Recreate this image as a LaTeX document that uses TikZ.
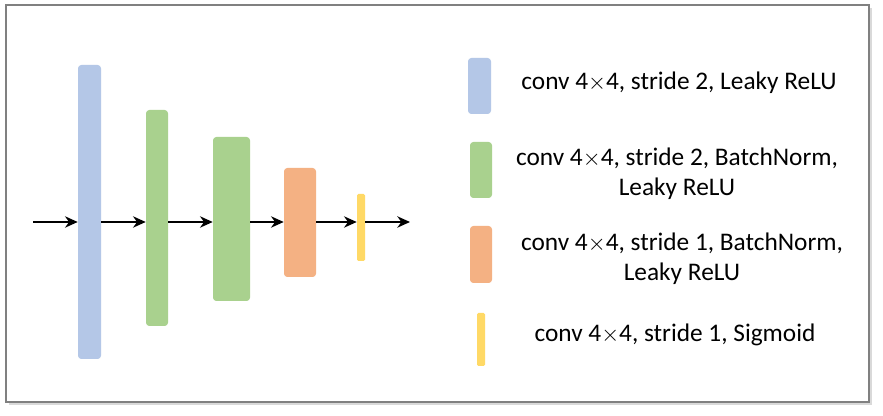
\documentclass[tikz,border=0pt]{standalone}
\usepackage{fontspec}
\setmainfont{Carlito}
\usetikzlibrary{arrows.meta,shadows}
\definecolor{convblue}{HTML}{B4C7E7}
\definecolor{convgreen}{HTML}{A9D18E}
\definecolor{convorange}{HTML}{F4B183}
\definecolor{convyellow}{HTML}{FFD966}
\newcommand{\kx}{$\times$}
\begin{document}
\begin{tikzpicture}[x=0.75pt,y=-0.75pt,
    layer/.style={rectangle,rounded corners=2.5pt,inner sep=0pt,draw=none},
    flow/.style={-{Stealth[length=9.5pt,width=8.5pt,inset=3pt]},line width=1.3pt},
    legtext/.style={align=center,font=\fontsize{19}{22.5}\selectfont}]
  \useasboundingbox (0,0) rectangle (883,416);
  \draw[draw=black!50,line width=1.2pt,fill=white,
        drop shadow={shadow xshift=2.5pt,shadow yshift=-2.5pt,fill=black!15,opacity=1}]
    (6,5) rectangle (869,402);
  % network
  \node[layer,fill=convblue,minimum width=17.25pt,minimum height=220.5pt] (l1) at (89.5,212) {};
  \node[layer,fill=convgreen,minimum width=16.5pt,minimum height=162pt] (l2) at (157,218) {};
  \node[layer,fill=convgreen,minimum width=27.75pt,minimum height=123pt] (l3) at (231.5,219) {};
  \node[layer,fill=convorange,minimum width=24pt,minimum height=81.75pt] (l4) at (300,222.5) {};
  \node[layer,rounded corners=1pt,fill=convyellow,minimum width=6pt,minimum height=50.25pt] (l5) at (361,227.5) {};
  \coordinate (in) at (33,222);
  \coordinate (out) at (410,222);
  \draw[flow] (in) -- (in -| l1.west);
  \foreach \a/\b in {l1/l2,l2/l3,l3/l4,l4/l5}
    \draw[flow] (\a.east |- in) -- (\b.west |- in);
  \draw[flow] (l5.east |- in) -- (out);
  % legend
  \node[layer,fill=convblue,minimum width=17.25pt,minimum height=42pt] (k1) at (479.5,86) {};
  \node[layer,fill=convgreen,minimum width=16.5pt,minimum height=42pt] (k2) at (481,170) {};
  \node[layer,fill=convorange,minimum width=16.5pt,minimum height=42.75pt] (k3) at (481,254.5) {};
  \node[layer,rounded corners=1pt,fill=convyellow,minimum width=6pt,minimum height=39.75pt] (k4) at (481,339.5) {};
  \node[legtext] (t1) at (679,83) {conv 4\kx4, stride 2, Leaky ReLU};
  \node[legtext] (t2) at (677,174) {conv 4\kx4, stride 2, BatchNorm,\\Leaky ReLU};
  \node[legtext] (t3) at (682,259) {conv 4\kx4, stride 1, BatchNorm,\\Leaky ReLU};
  \node[legtext] (t4) at (675,335) {conv 4\kx4, stride 1, Sigmoid};
\end{tikzpicture}
\end{document}
